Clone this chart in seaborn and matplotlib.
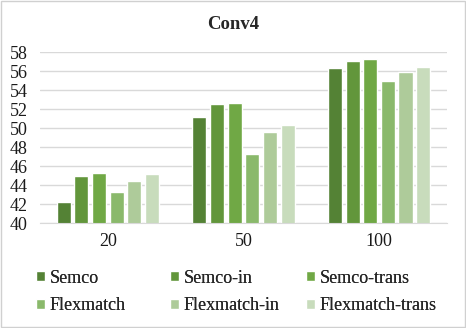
import matplotlib.pyplot as plt
import pandas as pd
import seaborn as sns

# values
groups = ["20", "50", "100"]
methods = ["Semco", "Semco-in", "Semco-trans", "Flexmatch", "Flexmatch-in", "Flexmatch-trans"]
semco = [42.2, 51.2, 56.35]
semco_in = [45.0, 52.55, 57.1]
semco_trans = [45.25, 52.6, 57.3]
flexmatch = [43.3, 47.3, 55.0]
flexmatch_in = [44.4, 49.6, 55.9]
flexmatch_trans = [45.15, 50.3, 56.4]
colors = ["#548235", "#62963b", "#70a845", "#8ab96b", "#aecb9a", "#c8dcbc"]

series = [semco, semco_in, semco_trans, flexmatch, flexmatch_in, flexmatch_trans]
rows = []
for m, vals in zip(methods, series):
    for g, v in zip(groups, vals):
        rows.append({"group": g, "method": m, "value": v})
df = pd.DataFrame(rows)

sns.set_style("white")
plt.rcParams["font.family"] = ["Liberation Serif", "DejaVu Serif"]

fig = plt.figure(figsize=(4.66, 3.28), dpi=100)
ax = fig.add_axes([0.086, 0.32, 0.873, 0.521])

sns.barplot(data=df, x="group", y="value", hue="method", order=groups,
            hue_order=methods, palette=colors, width=0.78, gap=0.2,
            saturation=1, ax=ax, legend=True)

ax.set_ylim(40, 58)
ax.set_yticks(range(40, 59, 2))
ax.yaxis.grid(True, color="#d9d9d9", linewidth=1)
ax.set_axisbelow(True)
for s in ["left", "right", "top"]:
    ax.spines[s].set_visible(False)
ax.spines["bottom"].set_color("#d9d9d9")
ax.tick_params(axis="both", length=0, labelsize=13, colors="#1a1a1a")
ax.tick_params(axis="x", pad=7)
ax.tick_params(axis="y", pad=9)
ax.set_xlabel("")
ax.set_ylabel("")

fig.text(0.5, 0.924, "Conv4", ha="center", va="center", fontsize=13.5, fontweight="bold")

# legend: 2 rows x 3 columns, one small legend per column
handles, labels = ax.get_legend_handles_labels()
ax.legend_.remove()
col_x = [0.077, 0.365, 0.657]
for i, x in enumerate(col_x):
    leg = fig.legend([handles[i], handles[i + 3]], [labels[i], labels[i + 3]],
                     loc="center left", bbox_to_anchor=(x, 0.11), frameon=False,
                     fontsize=13, handlelength=0.5, handleheight=0.5,
                     handletextpad=0.25, labelspacing=0.6, borderpad=0,
                     borderaxespad=0)
    fig.add_artist(leg)

# light border around the whole figure
fig.patches.append(plt.Rectangle((0.003, 0.004), 0.994, 0.992, transform=fig.transFigure,
                                 fill=False, edgecolor="#d0d0d0", linewidth=1))

fig.savefig("out.png", dpi=100)
